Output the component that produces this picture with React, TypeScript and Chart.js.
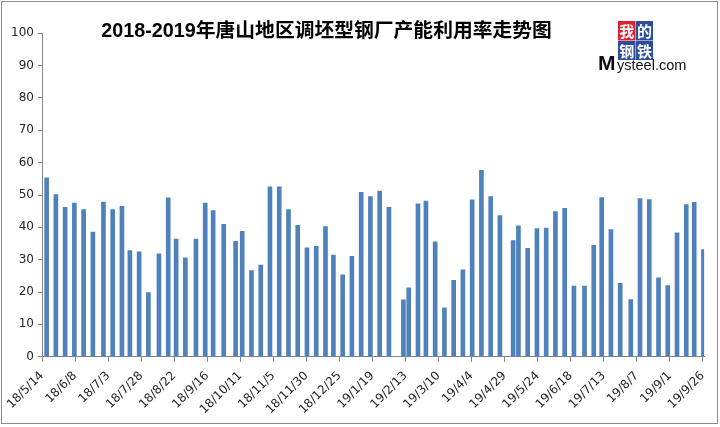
import React, { useEffect, useRef } from 'react';
import { Chart, registerables } from 'chart.js';

Chart.register(...registerables);

const chartTitle = '2018-2019年唐山地区调坯型钢厂产能利用率走势图';
const logoChars = ['我', '的', '钢', '铁'];
const logoM = 'M';
const logoRest = 'ysteel.com';

const surveyDates = [
  '2018-05-17', '2018-05-24', '2018-05-31', '2018-06-07', '2018-06-14', '2018-06-21', '2018-06-29',
  '2018-07-06', '2018-07-13', '2018-07-19', '2018-07-26', '2018-08-02', '2018-08-10', '2018-08-17',
  '2018-08-23', '2018-08-30', '2018-09-07', '2018-09-14', '2018-09-20', '2018-09-28', '2018-10-07',
  '2018-10-12', '2018-10-19', '2018-10-26', '2018-11-02', '2018-11-09', '2018-11-16', '2018-11-23',
  '2018-11-30', '2018-12-07', '2018-12-14', '2018-12-20', '2018-12-27', '2019-01-03', '2019-01-10',
  '2019-01-17', '2019-01-24', '2019-01-31', '2019-02-11', '2019-02-15', '2019-02-22', '2019-02-28',
  '2019-03-07', '2019-03-14', '2019-03-21', '2019-03-28', '2019-04-04', '2019-04-11', '2019-04-18',
  '2019-04-25', '2019-05-05', '2019-05-09', '2019-05-16', '2019-05-23', '2019-05-30', '2019-06-06',
  '2019-06-13', '2019-06-20', '2019-06-28', '2019-07-05', '2019-07-11', '2019-07-18', '2019-07-25',
  '2019-08-02', '2019-08-09', '2019-08-16', '2019-08-23', '2019-08-30', '2019-09-06', '2019-09-13',
  '2019-09-19', '2019-09-26',
];

const utilization = [
  55.3, 50.1, 46.2, 47.5, 45.5, 38.5, 47.8,
  45.5, 46.5, 32.8, 32.4, 19.8, 31.8, 49.1,
  36.4, 30.6, 36.4, 47.5, 45.2, 40.9, 35.7,
  38.8, 26.6, 28.3, 52.5, 52.5, 45.5, 40.6,
  33.7, 34.1, 40.2, 31.4, 25.3, 31.0, 50.8,
  49.5, 51.2, 46.2, 17.6, 21.3, 47.3, 48.1,
  35.5, 15.1, 23.6, 26.9, 48.5, 57.6, 49.5,
  43.6, 35.9, 40.5, 33.5, 39.6, 39.8, 44.9,
  45.9, 21.8, 21.8, 34.4, 49.2, 39.3, 22.7,
  17.7, 48.9, 48.6, 24.4, 22.0, 38.3, 47.0,
  47.7, 33.1,
];

const tickLabels = [
  '18/5/14', '18/6/8', '18/7/3', '18/7/28', '18/8/22', '18/9/16', '18/10/11', '18/11/5',
  '18/11/30', '18/12/25', '19/1/19', '19/2/13', '19/3/10', '19/4/4', '19/4/29', '19/5/24',
  '19/6/18', '19/7/13', '19/8/7', '19/9/1', '19/9/26',
];

const yTickValues = [0, 10, 20, 30, 40, 50, 60, 70, 80, 90, 100];

const ORIGIN = Date.UTC(2018, 4, 14);
const DAY = 86400000;

function dayFromIso(s: string): number {
  const [y, m, d] = s.split('-').map(Number);
  return Math.round((Date.UTC(y, m - 1, d) - ORIGIN) / DAY);
}

function dayFromLabel(s: string): number {
  const [y, m, d] = s.split('/').map(Number);
  return Math.round((Date.UTC(2000 + y, m - 1, d) - ORIGIN) / DAY);
}

const AXIS_COLOR = '#868686';
const TEXT_COLOR = '#262626';
const BAR_COLOR = '#4F81BD';

const decorPlugin = {
  id: 'decor',
  afterDraw(chart: any) {
    const ctx = chart.ctx as CanvasRenderingContext2D;
    ctx.save();
    // outer frame
    ctx.strokeStyle = '#8c8c8c';
    ctx.lineWidth = 1;
    ctx.strokeRect(1.5, 1.5, 716, 422);

    // title
    ctx.fillStyle = '#000';
    ctx.font = 'bold 19.8px "Liberation Sans Narrow", "Liberation Sans", "Noto Sans CJK SC"';
    ctx.textAlign = 'center';
    ctx.textBaseline = 'middle';
    ctx.fillText(chartTitle, 326.5, 32);

    // logo boxes
    const boxes = [
      { x: 618, y: 21, w: 17.5, h: 19.5, c: '#E3202B' },
      { x: 636, y: 21, w: 17, h: 19.5, c: '#2B4E9C' },
      { x: 618, y: 41, w: 17.5, h: 19, c: '#2B4E9C' },
      { x: 636, y: 41, w: 17, h: 19, c: '#2B4E9C' },
    ];
    ctx.font = 'bold 15px "Noto Sans CJK SC"';
    boxes.forEach((b, i) => {
      ctx.fillStyle = b.c;
      ctx.fillRect(b.x, b.y, b.w, b.h);
      ctx.fillStyle = '#fff';
      ctx.fillText(logoChars[i], b.x + b.w / 2, b.y + b.h / 2 + 0.5);
    });

    ctx.fillStyle = '#111';
    ctx.textAlign = 'left';
    ctx.textBaseline = 'alphabetic';
    ctx.font = 'bold 21px "Liberation Sans"';
    ctx.fillText(logoM, 598, 70);
    ctx.font = '14.5px "Liberation Sans"';
    ctx.fillText(logoRest, 617, 70);
    ctx.restore();
  },
};

export default function App() {
  const canvasRef = useRef<HTMLCanvasElement | null>(null);

  useEffect(() => {
    document.body.style.margin = '0';
    const canvas = canvasRef.current;
    if (!canvas) return;

    const points = surveyDates.map((d, i) => ({ x: dayFromIso(d) + 0.5, y: utilization[i] }));
    const tickDays = tickLabels.map(dayFromLabel);
    const font = { family: '"DejaVu Sans", Verdana, sans-serif', size: 12 };

    const chart = new Chart(canvas, {
      type: 'bar',
      data: {
        datasets: [
          {
            data: points as any,
            backgroundColor: BAR_COLOR,
            borderWidth: 0,
            barThickness: 4,
          },
        ],
      },
      options: {
        animation: false,
        responsive: false,
        devicePixelRatio: 1,
        layout: { padding: { left: 0, top: 33.3, right: 14.4, bottom: 0 } },
        plugins: {
          legend: { display: false },
          tooltip: { enabled: false },
          title: { display: false },
        },
        scales: {
          x: {
            type: 'linear',
            min: tickDays[0],
            max: tickDays[tickDays.length - 1] + 1,
            offset: false,
            afterBuildTicks: (s: any) => {
              s.ticks = tickDays.map((v) => ({ value: v }));
            },
            afterFit: (s: any) => {
              s.height = 70.3;
            },
            ticks: {
              autoSkip: false,
              minRotation: 45,
              maxRotation: 45,
              padding: 7,
              color: TEXT_COLOR,
              font,
              callback: (_v: any, i: number) => tickLabels[i],
            },
            grid: {
              drawOnChartArea: false,
              drawTicks: true,
              tickLength: 5,
              color: AXIS_COLOR,
              offset: false,
            },
            border: { color: AXIS_COLOR, width: 1 },
          },
          y: {
            min: yTickValues[0],
            max: yTickValues[yTickValues.length - 1],
            afterBuildTicks: (s: any) => {
              s.ticks = yTickValues.map((v) => ({ value: v }));
            },
            afterFit: (s: any) => {
              s.width = 42;
            },
            ticks: {
              padding: 4,
              color: TEXT_COLOR,
              font,
            },
            grid: {
              drawOnChartArea: false,
              drawTicks: true,
              tickLength: 4,
              color: AXIS_COLOR,
            },
            border: { color: AXIS_COLOR, width: 1 },
          },
        },
      } as any,
      plugins: [decorPlugin],
    });

    return () => {
      chart.destroy();
    };
  }, []);

  return (
    <div style={{ width: 720, height: 427, background: '#fff' }}>
      <canvas ref={canvasRef} width={720} height={427} style={{ display: 'block' }} />
    </div>
  );
}
